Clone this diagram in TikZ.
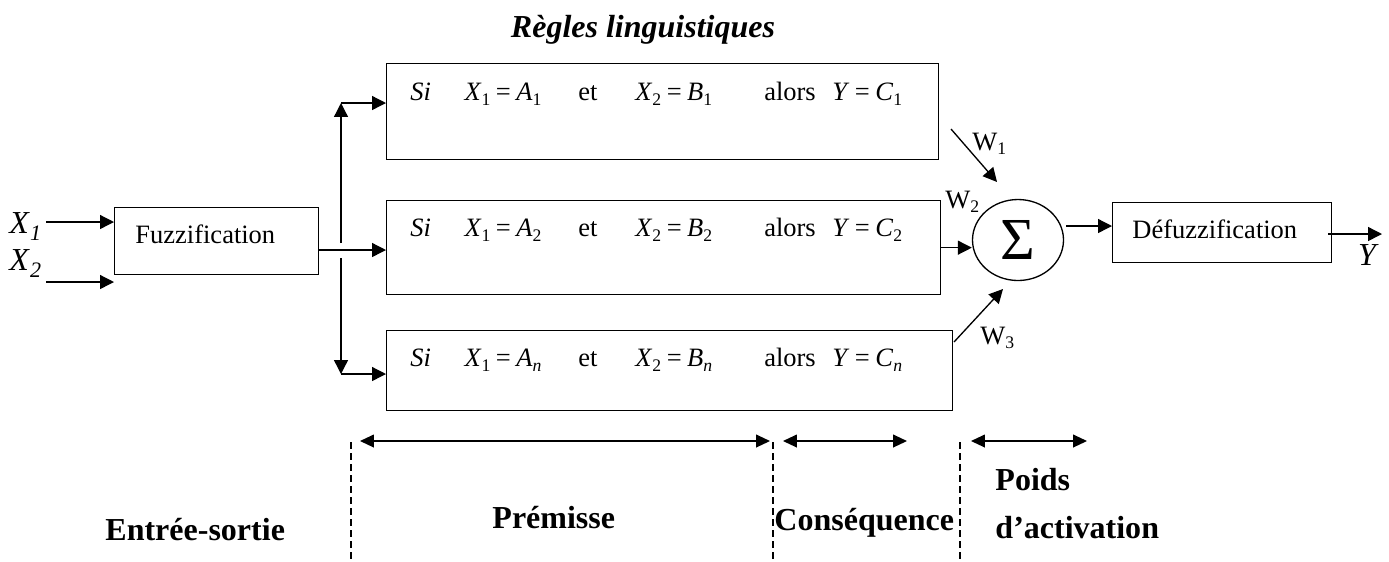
\documentclass[tikz,border=0pt]{standalone}
\usepackage{fontspec}
\setmainfont{Liberation Serif}
\usetikzlibrary{shapes.geometric, arrows.meta}

\newcommand{\unitpx}{0.453pt}
\newcommand{\ind}[2]{\textit{#1}\raisebox{-0.45ex}{\fontsize{8}{8}\selectfont #2}}
\newcommand{\egal}{\hspace{2.5pt}=\hspace{2.5pt}}
\newcommand{\regle}[1]{\makebox[24.5pt][l]{\textit{Si}}\makebox[51.6pt][l]{\ind{X}{1}\egal\ind{A}{#1}}\makebox[25.8pt][l]{et}\makebox[58.4pt][l]{\ind{X}{2}\egal\ind{B}{#1}}\makebox[30.8pt][l]{alors}\textit{Y}\egal\ind{C}{#1}}

\begin{document}
\begin{tikzpicture}[
    x=\unitpx, y=-\unitpx,
    bloc/.style={draw, line width=0.6pt, inner sep=0pt, anchor=north west},
    texte/.style={inner sep=0pt, anchor=base west, font=\fontsize{12}{14}\selectfont},
    titre/.style={inner sep=0pt, anchor=base west, font=\fontsize{14.5}{21.3}\selectfont\bfseries},
    fleche/.style={-{Triangle[length=6.3pt,width=6.3pt]}, line width=0.6pt},
    portee/.style={{Triangle[length=6.3pt,width=5.8pt]}-{Triangle[length=6.3pt,width=5.8pt]}, line width=0.6pt},
    limite/.style={dash pattern=on 3pt off 2pt, line width=0.5pt}
]
    \useasboundingbox (0,0) rectangle (1389,561);

    \node[titre, anchor=base, font=\fontsize{14.5}{17}\selectfont\bfseries\itshape] (regles) at (643,37) {Règles linguistiques};

    % blocs
    \node[bloc, minimum width=204*\unitpx, minimum height=67*\unitpx] (fuzz) at (114,207) {};
    \node[bloc, minimum width=552*\unitpx, minimum height=96*\unitpx] (r1) at (386,63) {};
    \node[bloc, minimum width=554*\unitpx, minimum height=94*\unitpx] (r2) at (386,200) {};
    \node[bloc, minimum width=566*\unitpx, minimum height=80*\unitpx] (r3) at (386,330) {};
    \node[bloc, minimum width=219*\unitpx, minimum height=60*\unitpx] (defuzz) at (1112,202) {};
    \node[ellipse, draw, line width=0.6pt, inner sep=0pt, minimum width=91*\unitpx, minimum height=81*\unitpx] (sig) at (1018,240) {\fontsize{27}{27}\selectfont Σ};

    \node[texte] (tfuzz) at (135,243) {Fuzzification};
    \node[texte] (tdefuzz) at (1132,238) {Défuzzification};
    \node[texte] (t1) at (410,100) {\regle{1}};
    \node[texte] (t2) at (410,236) {\regle{2}};
    \node[texte] (t3) at (410,366) {\regle{\textit{n}}};

    \node[texte, font=\fontsize{14.5}{17}\selectfont] (lx1) at (9,233) {\textit{X}\raisebox{-0.5ex}{\fontsize{10}{10}\selectfont\itshape 1}};
    \node[texte, font=\fontsize{14.5}{17}\selectfont] (lx2) at (9,270) {\textit{X}\raisebox{-0.5ex}{\fontsize{10}{10}\selectfont\itshape 2}};
    \node[texte, anchor=base, font=\fontsize{14.5}{17}\selectfont\itshape] (ly) at (1367,265) {Y};
    \node[texte] (w1) at (972,150) {W\raisebox{-0.4ex}{\fontsize{8}{8}\selectfont 1}};
    \node[texte] (w2) at (945,208) {W\raisebox{-0.4ex}{\fontsize{8}{8}\selectfont 2}};
    \node[texte] (w3) at (980,344) {W\raisebox{-0.4ex}{\fontsize{8}{8}\selectfont 3}};

    % liaisons
    \coordinate (x1) at (46,222);
    \coordinate (x2) at (46,282);
    \coordinate (sf) at (318,250);
    \coordinate (haut) at (341,103);
    \coordinate (bas) at (341,374);
    \coordinate (c1) at (341,243);
    \coordinate (c2) at (341,258);
    \draw[fleche] (x1) -- (x1 -| fuzz.west);
    \draw[fleche] (x2) -- (x2 -| fuzz.west);
    \draw[fleche] (sf) -- (sf -| r2.west);
    \draw[fleche] (c1) -- (haut);
    \draw[fleche] (haut) -- (haut -| r1.west);
    \draw[fleche] (c2) -- (bas);
    \draw[fleche] (bas) -- (bas -| r3.west);

    \coordinate (w1a) at (951,129);
    \coordinate (w1b) at (997,182);
    \coordinate (w3a) at (954,342);
    \coordinate (w3b) at (1003,289);
    \coordinate (so) at (1066,226);
    \coordinate (ys) at (1328,234);
    \coordinate (yfin) at (1382,234);
    \draw[fleche] (w1a) -- (w1b);
    \draw[fleche] (r2.east) -- (r2.east -| sig.west);
    \draw[fleche] (w3a) -- (w3b);
    \draw[fleche] (so) -- (so -| defuzz.west);
    \draw[fleche] (ys) -- (yfin);

    % etapes
    \draw[limite] (351,442) -- (351,561);
    \draw[limite] (773,442) -- (773,561);
    \draw[limite] (960,442) -- (960,561);
    \draw[portee] (360,441) -- (770,441);
    \draw[portee] (783,441) -- (907,441);
    \draw[portee] (971,441) -- (1087,441);

    \node[titre] (es) at (105,540) {Entrée-sortie};
    \node[titre] (prem) at (492,528) {Prémisse};
    \node[titre] (cons) at (774,530) {Conséquence};
    \node[titre, align=left] (poids) at (995,538) {Poids\\d’activation};
\end{tikzpicture}
\end{document}
